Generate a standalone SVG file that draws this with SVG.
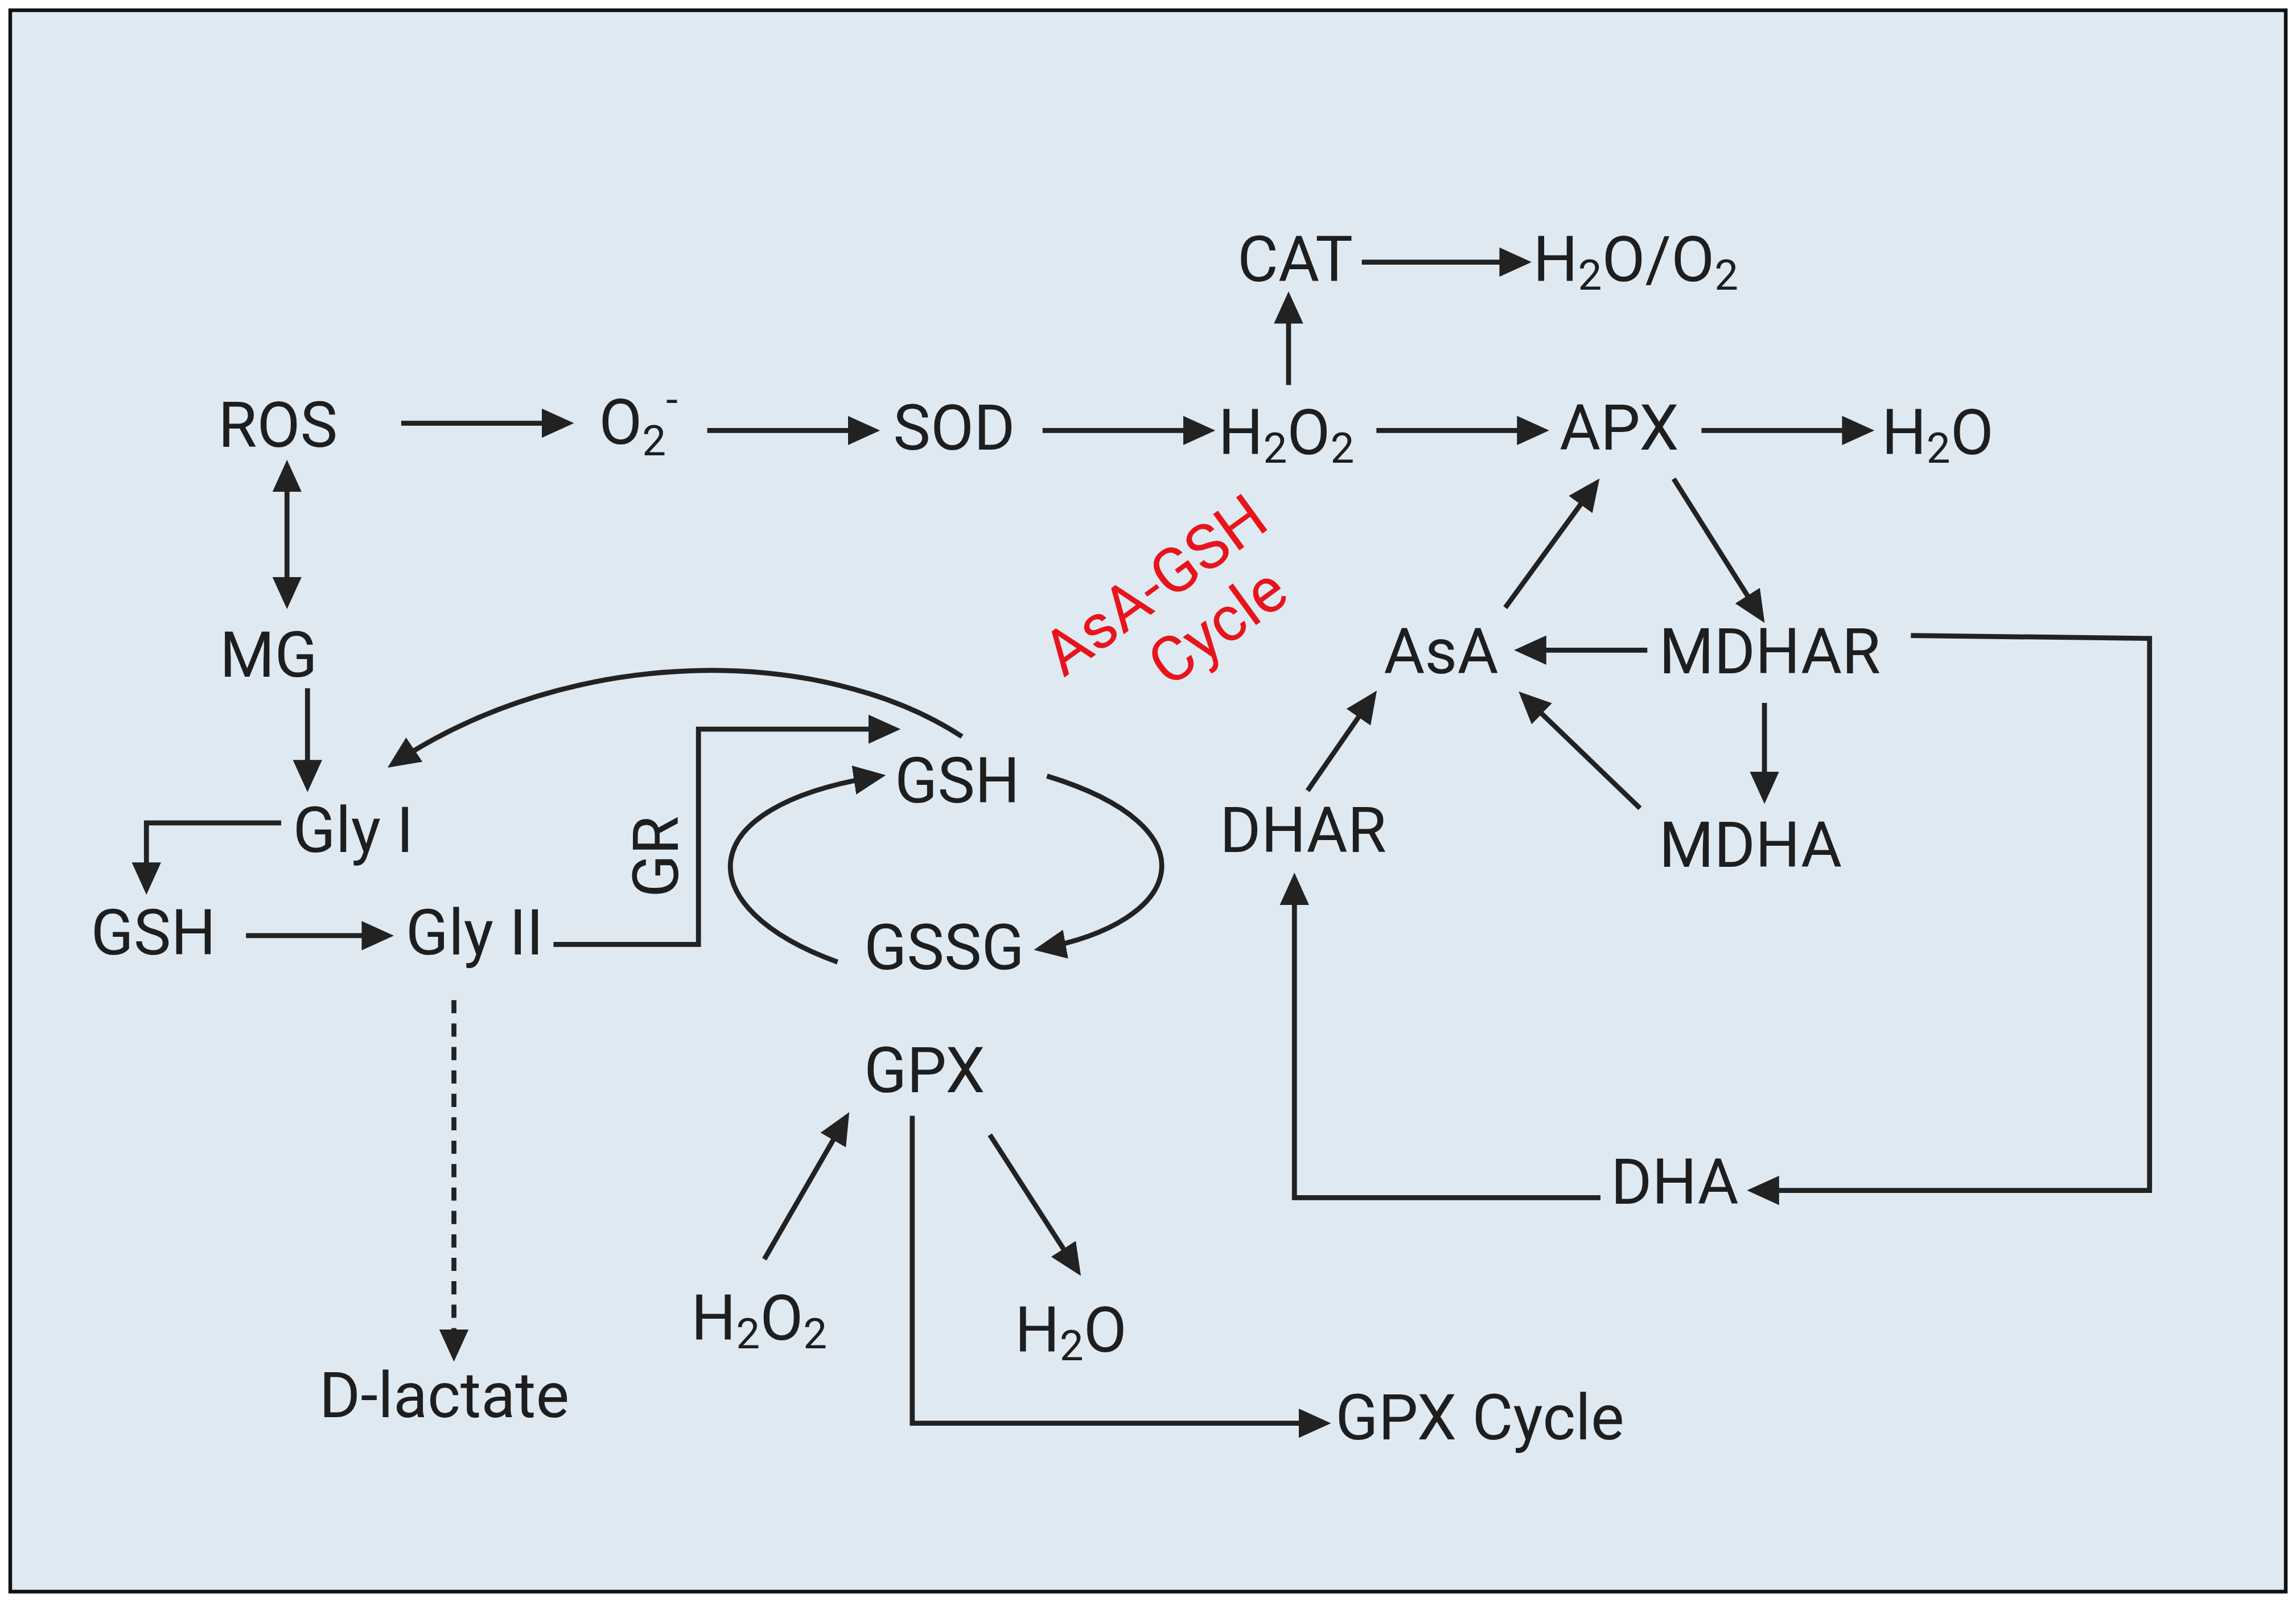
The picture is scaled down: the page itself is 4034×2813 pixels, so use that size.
<svg xmlns="http://www.w3.org/2000/svg" width="4034" height="2813" viewBox="0 0 4034 2813">
<defs>
<style>
.t{font-family:Roboto,"Liberation Sans",sans-serif;font-size:43px;fill:#1e1e1e}
.s{font-size:29px}
.l{fill:none;stroke:#222;stroke-width:3.4}
.a{marker-end:url(#ah)}
</style>
<marker id="ah" markerUnits="userSpaceOnUse" markerWidth="22" markerHeight="20" refX="18" refY="10" orient="auto-start-reverse" viewBox="0 0 22 20"><path d="M0,0 L22,10 L0,20 z" fill="#222"/></marker>
</defs>
<rect width="4034" height="2813" fill="#fff"/>
<g transform="scale(2.5727)">
<rect x="7" y="7" width="1554" height="1080" fill="#dfe9f2" stroke="#111" stroke-width="2.5"/>
<g id="connectors">
<path class="l a" d="M274,289 H388"/>
<path class="l a" d="M483,294 H597"/>
<path class="l a" d="M712,294 H826"/>
<path class="l a" d="M940,294 H1054"/>
<path class="l a" d="M1162,294 H1276"/>
<path class="l a" d="M880,263 V203"/>
<path class="l a" d="M930,179 H1042"/>
<path class="l a" d="M196,318 V412" marker-start="url(#ah)"/>
<path class="l a" d="M210,470 V537"/>
<path class="l a" d="M192,562 H100 V607"/>
<path class="l a" d="M168,639 H265"/>
<path class="l a" d="M378,645 H477 V498 H611"/>
<path class="l a" d="M657,503 C560,440 390,440 268,522"/>
<path class="l a" d="M715,530 C830,565 810,630 710,648"/>
<path class="l a" d="M572,657 C470,620 470,550 601,530"/>
<path class="l" d="M310,683 V914" stroke-dasharray="9,7"/>
<path class="l a" d="M310,908 V926"/>
<path class="l a" d="M623,762 V972 H905"/>
<path class="l a" d="M522,860 L578,763"/>
<path class="l a" d="M676,775 L736,868"/>
<path class="l a" d="M1028,415 L1090,330"/>
<path class="l a" d="M1143,327 L1203,422"/>
<path class="l a" d="M1125,444 H1038"/>
<path class="l a" d="M1205,480 V545"/>
<path class="l a" d="M1120,552 L1040,475"/>
<path class="l a" d="M893,540 L938,475"/>
<path class="l a" d="M1305,434 L1468,436 V813 H1197"/>
<path class="l a" d="M1093,818 H884 V600"/>
</g>
<g id="ROS"><text class="t" x="149" y="305">ROS</text></g>
<g id="O2"><text class="t" x="409" y="303">O<tspan class="s" dy="8">2</tspan><tspan class="s" dy="-28">-</tspan></text></g>
<g id="SOD"><text class="t" x="610" y="307">SOD</text></g>
<g id="H2O2"><text class="t" x="832" y="310">H<tspan class="s" dy="6">2</tspan><tspan dy="-6">O</tspan><tspan class="s" dy="6">2</tspan></text></g>
<g id="CAT"><text class="t" x="845" y="192">CAT</text></g>
<g id="H2OO2"><text class="t" x="1047" y="192">H<tspan class="s" dy="6">2</tspan><tspan dy="-6">O/O</tspan><tspan class="s" dy="6">2</tspan></text></g>
<g id="APX"><text class="t" x="1065" y="307">APX</text></g>
<g id="H2O"><text class="t" x="1285" y="310">H<tspan class="s" dy="6">2</tspan><tspan dy="-6">O</tspan></text></g>
<g id="MG"><text class="t" x="150" y="462">MG</text></g>
<g id="GlyI"><text class="t" x="200" y="582">Gly I</text></g>
<g id="GSH1"><text class="t" x="62" y="652">GSH</text></g>
<g id="GlyII"><text class="t" x="277" y="652">Gly II</text></g>
<g id="GR"><text class="t" transform="translate(463,613) rotate(-90)">GR</text></g>
<g id="GSH2"><text class="t" x="611" y="548">GSH</text></g>
<g id="GSSG"><text class="t" x="590" y="662">GSSG</text></g>
<g id="GPX"><text class="t" x="590" y="746">GPX</text></g>
<g id="H2O2b"><text class="t" x="472" y="915">H<tspan class="s" dy="6">2</tspan><tspan dy="-6">O</tspan><tspan class="s" dy="6">2</tspan></text></g>
<g id="H2Ob"><text class="t" x="693" y="923">H<tspan class="s" dy="6">2</tspan><tspan dy="-6">O</tspan></text></g>
<g id="Dlactate"><text class="t" x="218" y="968">D-lactate</text></g>
<g id="GPXCycle"><text class="t" x="912" y="983">GPX Cycle</text></g>
<g id="cycle"><text class="t" style="fill:#e8141c" text-anchor="middle" transform="translate(802,418) rotate(-36)"><tspan x="0" y="-8">AsA-GSH</tspan><tspan x="18" y="40">Cycle</tspan></text></g>
<g id="AsA"><text class="t" x="945" y="460">AsA</text></g>
<g id="MDHAR"><text class="t" x="1133" y="460">MDHAR</text></g>
<g id="DHAR"><text class="t" x="833" y="582">DHAR</text></g>
<g id="MDHA"><text class="t" x="1133" y="592">MDHA</text></g>
<g id="DHA"><text class="t" x="1100" y="822">DHA</text></g>
</g>
</svg>
